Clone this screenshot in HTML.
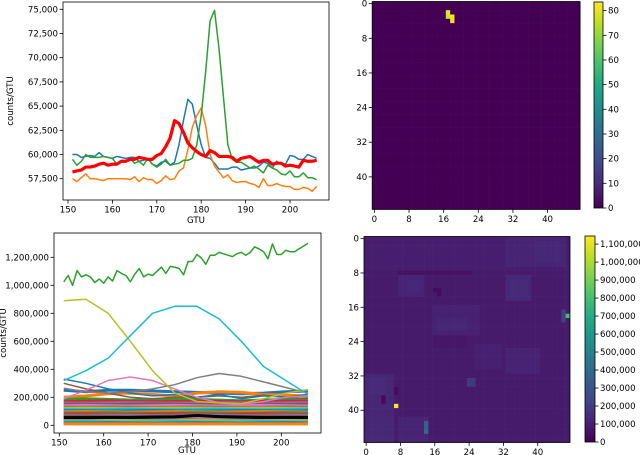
<!DOCTYPE html>
<html><head><meta charset="utf-8"><style>
html,body{margin:0;padding:0;background:#fff;}
svg{display:block;font-family:"DejaVu Sans","Liberation Sans",sans-serif;}
</style></head><body>
<svg id="fig" width="640" height="455" viewBox="0 0 640 455" xmlns="http://www.w3.org/2000/svg">
<defs>
<linearGradient id="vir" x1="0" y1="1" x2="0" y2="0">
<stop offset="0" stop-color="#440154"/><stop offset="0.1" stop-color="#482475"/><stop offset="0.2" stop-color="#414487"/><stop offset="0.3" stop-color="#355f8d"/><stop offset="0.4" stop-color="#2a788e"/><stop offset="0.5" stop-color="#21918c"/><stop offset="0.6" stop-color="#22a884"/><stop offset="0.7" stop-color="#44bf70"/><stop offset="0.8" stop-color="#7ad151"/><stop offset="0.9" stop-color="#bddf26"/><stop offset="1" stop-color="#fde725"/>
</linearGradient>
<clipPath id="c1"><rect x="63" y="2" width="266" height="198"/></clipPath>
<clipPath id="c2"><rect x="54" y="233" width="267" height="200"/></clipPath>
</defs>
<g id="tl"></g>
<g id="bl"></g>
<g id="tr"></g>
<g id="br"></g>
</svg>
<script>
// ---------- Top-left data ----------
const tlGtu = [];
for (let g = 151; g <= 206; g++) tlGtu.push(g);
const tlBlue = [60000,60000,59700,59800,59900,59800,60200,59800,59700,59600,59800,59700,59600,59700,59700,59300,59400,59600,59000,58800,59200,59300,58900,59200,61000,63500,65700,65200,63000,61000,59700,59600,59100,58500,58500,58500,58700,58700,58400,58500,58600,58600,58800,59200,59100,58600,59300,59000,59000,59900,59800,59500,59500,60000,59800,59600];
const tlOrange = [57500,57200,57600,58000,57500,57500,57400,57300,57500,57500,57500,57500,57500,57400,57700,57200,57600,57400,57400,57000,57300,57800,57400,57500,58300,58600,60500,62800,64000,64800,63000,60000,58800,58200,57600,57900,57300,57100,57200,57200,57000,56900,56600,57500,56800,56800,57000,56800,56700,56700,56400,56400,56600,56500,56200,56700];
const tlGreen = [59500,58900,59300,60000,59700,59700,59700,59800,59700,59600,59000,59300,59200,59600,59100,59300,58900,59600,59000,58700,59000,59500,58900,59000,59100,59400,59400,59600,61000,64000,68500,73800,74900,71000,66000,61000,59500,59200,59200,58900,58600,58800,58500,58100,58900,58600,58400,58000,57900,58300,57700,57700,58100,57600,57600,57400];
const tlRed = [58200,58300,58400,58700,58700,58800,59000,59100,58900,59000,59000,59300,59300,59500,59500,59700,59600,59500,59500,59900,60100,60800,61700,63500,63200,62300,61200,60700,60300,60000,59800,60400,60200,59800,59800,59800,59700,59300,59600,59700,59800,59500,59200,59400,59400,59000,59100,59100,58800,58900,58800,58700,59400,59300,59300,59400];
const tlYTicks = [57500,60000,62500,65000,67500,70000,72500,75000];
const tlXTicks = [150,160,170,180,190,200];

// ---------- Bottom-left data ----------
const blGtuFine = tlGtu;
const blGreen = [1025000,1070000,1000000,1105000,1060000,1075000,1060000,1020000,1045000,1015000,1060000,1030000,1105000,1085000,1070000,1025000,1080000,1120000,1060000,1080000,1070000,1100000,1130000,1085000,1135000,1130000,1120000,1075000,1170000,1170000,1220000,1195000,1150000,1215000,1215000,1235000,1225000,1215000,1205000,1225000,1235000,1215000,1235000,1275000,1260000,1240000,1190000,1295000,1220000,1220000,1250000,1240000,1240000,1260000,1280000,1300000];
const blGtu = [151,156,161,166,171,176,181,186,191,196,201,206];
const blOlive = [890000,900000,800000,600000,390000,230000,170000,160000,155000,190000,230000,255000];
const blCyan = [320000,390000,480000,640000,800000,850000,850000,760000,600000,420000,320000,220000];
const blGray = [265000,240000,230000,240000,260000,290000,340000,370000,350000,310000,270000,230000];
const blPink = [190000,250000,320000,345000,320000,260000,200000,160000,150000,170000,200000,210000];
const blBlue = [330000,300000,260000,230000,210000,220000,200000,220000,190000,210000,200000,220000];
const blRed = [300000,260000,230000,200000,190000,200000,200000,210000,200000,215000,200000,190000];
const blBand = [
[250000,240000,250000,250000,245000,240000,235000,230000,225000,230000,240000,245000],
[200000,210000,225000,230000,220000,210000,230000,240000,235000,220000,215000,210000],
[185000,190000,185000,180000,185000,190000,185000,180000,175000,180000,185000,190000],
[170000,172000,175000,170000,168000,170000,172000,170000,168000,170000,172000,170000],
[160000,158000,160000,162000,160000,158000,160000,162000,160000,158000,160000,162000],
[150000,150000,148000,150000,152000,150000,148000,150000,152000,150000,148000,150000],
[140000,142000,140000,138000,140000,142000,140000,138000,140000,142000,140000,138000],
[130000,130000,132000,130000,128000,130000,132000,130000,128000,130000,132000,130000],
[120000,122000,120000,118000,120000,122000,120000,118000,120000,122000,120000,118000],
[112000,110000,112000,114000,112000,110000,112000,114000,112000,110000,112000,114000],
[104000,104000,102000,104000,106000,104000,102000,104000,106000,104000,102000,104000],
[96000,98000,96000,94000,96000,98000,96000,94000,96000,98000,96000,94000],
[88000,88000,90000,88000,86000,88000,90000,88000,86000,88000,90000,88000],
[80000,82000,80000,78000,80000,82000,80000,78000,80000,82000,80000,78000],
[72000,72000,74000,72000,70000,72000,74000,72000,70000,72000,74000,72000],
[64000,66000,64000,62000,64000,66000,64000,62000,64000,66000,64000,62000],
[48000,48000,50000,48000,46000,48000,50000,48000,46000,48000,50000,48000],
[40000,42000,40000,38000,40000,42000,40000,38000,40000,42000,40000,38000],
[32000,32000,34000,32000,30000,32000,34000,32000,30000,32000,34000,32000],
[24000,26000,24000,22000,24000,26000,24000,22000,24000,26000,24000,22000],
[16000,16000,18000,16000,14000,16000,18000,16000,14000,16000,18000,16000],
[10000,10000,10000,10000,10000,10000,10000,10000,10000,10000,10000,10000]
];
const blBlack = [55000,55000,56000,56000,58000,60000,70000,62000,58000,56000,56000,56000];
const blYTicks = [0,200000,400000,600000,800000,1000000,1200000];
const blXTicks = [150,160,170,180,190,200];

// ---------- Top-right heatmap data ----------
const trSpots = [[2,17,80],[3,17,78],[3,18,82],[4,18,80]]; // [row, col, value]
const trCbTicks = [0,10,20,30,40,50,60,70,80];
const hmTicks = [0,8,16,24,32,40];

// ---------- Bottom-right heatmap data ----------
const brBase = 85000;
const brPatches = [ // [r0,c0,r1,c1,value]
[0,0,7,47,95000],[0,33,6,46,115000],[1,40,5,45,125000],[9,33,14,38,125000],[10,34,13,37,135000],
[9,8,13,13,115000],[10,10,12,12,125000],[8,8,8,24,55000],[16,16,22,26,105000],[19,17,21,23,120000],
[23,16,25,23,70000],[26,33,31,40,110000],[32,0,47,6,120000],[33,1,36,4,135000],[42,0,47,6,130000],
[42,8,47,14,115000],[33,24,34,25,190000],[25,26,30,31,100000],[12,16,12,17,40000],[13,17,13,17,40000],
[37,4,38,4,30000],[35,7,36,7,40000],[43,14,44,14,350000],[17,46,19,46,220000]];
const brSpots = [[39,7,1150000],[18,47,800000],[45,14,400000]];
const brCbTicks = [0,100000,200000,300000,400000,500000,600000,700000,800000,900000,1000000,1100000];

// ---------- helpers ----------
const NS = "http://www.w3.org/2000/svg";
const FS = 8.6;
function mk(tag, attrs, parent) {
  const e = document.createElementNS(NS, tag);
  for (const k in attrs) e.setAttribute(k, attrs[k]);
  parent.appendChild(e);
  return e;
}
function fmt(v) { return v.toLocaleString("en-US"); }
const VS = ["#440154","#482475","#414487","#355f8d","#2a788e","#21918c","#22a884","#44bf70","#7ad151","#bddf26","#fde725"];
function viridis(t) {
  t = Math.max(0, Math.min(1, t));
  const f = t * 10, i = Math.min(9, Math.floor(f)), u = f - i;
  const a = VS[i], b = VS[i + 1];
  const c = [1,3,5].map(p => Math.round(parseInt(a.substr(p,2),16)*(1-u) + parseInt(b.substr(p,2),16)*u));
  return "rgb(" + c.join(",") + ")";
}
function line(parent, xs, ys, xf, yf, color, w, name) {
  const d = xs.map((x, i) => (i ? "L" : "M") + xf(x).toFixed(2) + "," + yf(ys[i]).toFixed(2)).join("");
  const p = mk("path", {d: d, fill: "none", stroke: color, "stroke-width": w, "stroke-linejoin": "round"}, parent);
  
  
  return p;
}
function frame(parent, x, y, w, h) {
  const r = mk("rect", {x: x, y: y, width: w, height: h, fill: "none", stroke: "#000", "stroke-width": 0.8}, parent);
  
  
}
function ytick(parent, x, y, label, name) {
  mk("line", {x1: x - 3.5, y1: y, x2: x, y2: y, stroke: "#000", "stroke-width": 0.8}, parent);
  const t = mk("text", {x: x - 5, y: y + 3, "font-size": FS, "text-anchor": "end", fill: "#000"}, parent);
  t.textContent = label;
  
  
}
function xtick(parent, x, y, label, name) {
  mk("line", {x1: x, y1: y, x2: x, y2: y + 3.5, stroke: "#000", "stroke-width": 0.8}, parent);
  const t = mk("text", {x: x, y: y + 12.5, "font-size": FS, "text-anchor": "middle", fill: "#000"}, parent);
  t.textContent = label;
  
  
}
function rtick(parent, x, y, label, name) {
  mk("line", {x1: x, y1: y, x2: x + 3.5, y2: y, stroke: "#000", "stroke-width": 0.8}, parent);
  const t = mk("text", {x: x + 5, y: y + 3, "font-size": FS, "text-anchor": "start", fill: "#000"}, parent);
  t.textContent = label;
  
  
}
function labels(parent, xl, cx, cy) {
  const t = mk("text", {x: xl[0], y: xl[1], "font-size": FS, "text-anchor": "middle"}, parent);
  t.textContent = "GTU";
  
  
  const u = mk("text", {x: 0, y: 0, "font-size": FS, "text-anchor": "middle", transform: "translate(" + cx + "," + cy + ") rotate(-90)"}, parent);
  u.textContent = "counts/GTU";
  
  
}

// ---------- Top-left chart ----------
(function () {
  const g = document.getElementById("tl");
  const X = v => 68 + (v - 150) * 4.44;
  const Y = v => 178.7 - (v - 57500) / 2500 * 24.2;
  const cg = mk("g", {"clip-path": "url(#c1)"}, g);
  line(cg, tlGtu, tlBlue, X, Y, "#1f77b4", 1.5, "series-blue");
  line(cg, tlGtu, tlOrange, X, Y, "#ff7f0e", 1.5, "series-orange");
  line(cg, tlGtu, tlGreen, X, Y, "#2ca02c", 1.5, "series-green");
  line(cg, tlGtu, tlRed, X, Y, "#ff0000", 3.2, "series-red-mean");
  frame(g, 63, 2, 266, 198);
  tlYTicks.forEach(v => ytick(g, 63, Y(v), fmt(v), "y-tick-label"));
  tlXTicks.forEach(v => xtick(g, X(v), 200, String(v), "x-tick-label"));
  labels(g, [196, 223], 13, 101);
})();

// ---------- Bottom-left chart ----------
(function () {
  const g = document.getElementById("bl");
  const X = v => 59.3 + (v - 150) * 4.44;
  const Y = v => 425.3 - v / 200000 * 28;
  const cg = mk("g", {"clip-path": "url(#c2)"}, g);
  const cyc = ["#1f77b4","#ff7f0e","#2ca02c","#d62728","#9467bd","#8c564b","#e377c2","#7f7f7f","#bcbd22","#17becf"];
  blBand.forEach((s, i) => line(cg, blGtu, s, X, Y, cyc[i % 10], 3, "band-series"));
  line(cg, blGtu, blBlack, X, Y, "#000", 3, "series-black");
  line(cg, blGtu, blRed, X, Y, "#8c564b", 1.5, "series-brown");
  line(cg, blGtu, blBlue, X, Y, "#1f77b4", 1.5, "series-blue");
  line(cg, blGtu, blPink, X, Y, "#e377c2", 1.5, "series-pink");
  line(cg, blGtu, blGray, X, Y, "#7f7f7f", 1.5, "series-gray");
  line(cg, blGtu, blOlive, X, Y, "#bcbd22", 1.5, "series-olive");
  line(cg, blGtu, blCyan, X, Y, "#17becf", 1.5, "series-cyan");
  line(cg, blGtuFine, blGreen, X, Y, "#2ca02c", 1.5, "series-green");
  frame(g, 54, 233, 267, 200);
  blYTicks.forEach(v => ytick(g, 54, Y(v), fmt(v), "y-tick-label"));
  blXTicks.forEach(v => xtick(g, X(v), 433, String(v), "x-tick-label"));
  labels(g, [187, 453], 6, 333);
})();

// ---------- Heatmap drawing ----------
function heatmap(g, x0, y0, cell, grid, vmax, cb) {
  for (let r = 0; r < 48; r++) for (let c = 0; c < 48; c++) {
    const rc = mk("rect", {x: (x0 + c * cell).toFixed(2), y: (y0 + r * cell).toFixed(2), width: (cell + 0.3).toFixed(2), height: (cell + 0.3).toFixed(2), fill: viridis(grid[r][c] / vmax)}, g);
    
    
  }
  frame(g, x0, y0, cell * 48, cell * 48);
  hmTicks.forEach(t => {
    ytick(g, x0, y0 + (t + 0.5) * cell, String(t), "y-tick-label");
    xtick(g, x0 + (t + 0.5) * cell, y0 + cell * 48, String(t), "x-tick-label");
  });
  const bar = mk("rect", {x: cb.x, y: cb.y, width: cb.w, height: cb.h, fill: "url(#vir)", stroke: "#000", "stroke-width": 0.8}, g);
  
  
  cb.ticks.forEach(t => rtick(g, cb.x + cb.w, cb.y + cb.h - t / vmax * cb.h, fmt(t), "colorbar-tick-label"));
}

(function () {
  const g = document.getElementById("tr");
  const grid = [];
  for (let r = 0; r < 48; r++) grid.push(new Array(48).fill(0));
  trSpots.forEach(s => grid[s[0]][s[1]] = s[2]);
  heatmap(g, 372.2, 1.5, 4.33, grid, 83.5, {x: 594, y: 2, w: 9, h: 206, ticks: trCbTicks});
})();

(function () {
  const g = document.getElementById("br");
  const grid = [];
  for (let r = 0; r < 48; r++) grid.push(new Array(48).fill(brBase));
  brPatches.forEach(p => { for (let r = p[0]; r <= p[2]; r++) for (let c = p[1]; c <= p[3]; c++) grid[r][c] = p[4]; });
  brSpots.forEach(s => grid[s[0]][s[1]] = s[2]);
  heatmap(g, 364, 236.5, 4.29, grid, 1145000, {x: 585, y: 236, w: 10, h: 206, ticks: brCbTicks});
})();
</script>
</body></html>
